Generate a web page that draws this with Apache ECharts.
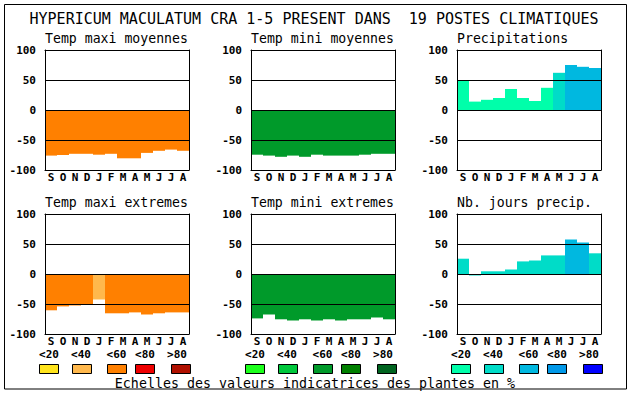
<!DOCTYPE html>
<html><head><meta charset="utf-8">
<script src="https://cdn.jsdelivr.net/npm/echarts@6/dist/echarts.min.js"></script>
<style>html,body{margin:0;padding:0;background:#fff}#c{width:630px;height:394px}</style>
</head><body><div id="c"></div>
<script>
const months = ['S','O','N','D','J','F','M','A','M','J','J','A'];
const yTicks = [-100, -50, 0, 50, 100];
const classLabels = ['<20','<40','<60','<80','>80'];
const warmColors = ['#ffe41c','#ffb84c','#ff8000','#ee0000','#b01000'];
const greenColors = ['#1cff1c','#00c83c','#009a2a','#008000','#006420'];
const blueColors = ['#00ffaa','#00dcc8','#00b8e0','#0098e8','#0000ff'];

const panelTitles = ['Temp maxi moyennes','Temp mini moyennes','Precipitations','Temp maxi extremes','Temp mini extremes','Nb. jours precip.'];

const tmaxMoy    = [-76,-75,-73,-73,-74.5,-73,-80.5,-80.5,-71.5,-68,-66,-68];
const tmaxMoyCls = [2,2,2,2,2,2,2,2,2,2,2,2];
const tminMoy    = [-74.5,-76,-78,-76,-78,-74.5,-76,-76,-76,-74.5,-73,-73];
const tminMoyCls = [2,2,2,2,2,2,2,2,2,2,2,2];
const precip     = [49,14,17,20,35,20,15,37,62,75,72,70];
const precipCls  = [0,0,0,0,0,0,0,0,1,2,2,2];
const tmaxExt    = [-60.5,-54,-52.5,-51,-42.5,-65.5,-65.5,-64,-67.5,-65.5,-64,-64];
const tmaxExtCls = [2,2,2,2,1,2,2,2,2,2,2,2];
const tminExt    = [-74,-67.5,-75.5,-77.5,-75.5,-77.5,-75.5,-77.5,-75.5,-75.5,-72.5,-75.5];
const tminExtCls = [2,2,2,2,2,2,2,2,2,2,2,2];
const nbJours    = [25.5,-2.5,4.5,4.5,7.5,21,22.5,31,31,57.5,52.5,34.5];
const nbJoursCls = [1,1,1,1,1,1,1,1,1,2,2,1];

const panels = [
  {vals: tmaxMoy, cls: tmaxMoyCls, pal: warmColors},
  {vals: tminMoy, cls: tminMoyCls, pal: greenColors},
  {vals: precip,  cls: precipCls,  pal: blueColors},
  {vals: tmaxExt, cls: tmaxExtCls, pal: warmColors},
  {vals: tminExt, cls: tminExtCls, pal: greenColors},
  {vals: nbJours, cls: nbJoursCls, pal: blueColors}
];
const palettes = [warmColors, greenColors, blueColors];

const FONT = 'DejaVu Sans Mono';
const colLeft = [45, 251, 457];
const rowTop = [50, 214];
const PW = 144, PH = 120;

const grids = [], xAxes = [], yAxes = [], series = [], graphics = [];
panels.forEach((p, k) => {
  const col = k % 3, row = Math.floor(k / 3);
  grids.push({left: colLeft[col], top: rowTop[row], width: PW, height: PH, containLabel: false});
  const gi = k;
  xAxes.push({type:'category', gridIndex: gi, data: months, position:'bottom', z: 5,
    axisLine:{show:true, onZero:false, lineStyle:{color:'#000', width:1}},
    axisTick:{show:false},
    axisLabel:{show:true, interval:0, margin:2, color:'#000', fontFamily:FONT, fontWeight:'bold', fontSize:11},
    splitLine:{show:false}});
  xAxes.push({type:'category', gridIndex: gi, data: months, position:'top', z: 5,
    axisLine:{show:true, onZero:false, lineStyle:{color:'#000', width:1}},
    axisTick:{show:false}, axisLabel:{show:false}, splitLine:{show:false}});
  yAxes.push({type:'value', gridIndex: gi, min: yTicks[0], max: yTicks[yTicks.length-1], interval: 50, position:'left', z: 5,
    axisLine:{show:true, lineStyle:{color:'#000', width:1}},
    axisTick:{show:false},
    axisLabel:{show:true, margin:9, color:'#000', fontFamily:FONT, fontWeight:'bold', fontSize:11},
    splitLine:{show:true, lineStyle:{color:'#000', width:1}}});
  yAxes.push({type:'value', gridIndex: gi, min: yTicks[0], max: yTicks[yTicks.length-1], interval: 50, position:'right', z: 5,
    axisLine:{show:true, lineStyle:{color:'#000', width:1}},
    axisTick:{show:false}, axisLabel:{show:false}, splitLine:{show:false}});
  series.push({type:'bar', xAxisIndex: 2*k, yAxisIndex: 2*k, barCategoryGap: 0, barGap: 0, z: 2,
    silent: true, animation: false,
    data: p.vals.map((v, i) => ({value: v, itemStyle: {color: p.pal[p.cls[i]]}}))});
  graphics.push({type:'text', x: colLeft[col], y: rowTop[row] - 12,
    style:{text: panelTitles[k], font: '13.2px "' + FONT + '"', fill:'#000', textVerticalAlign:'middle'}});
});

// legends
const boxOff = [-6, 27, 62, 90, 126];
const labOff = [4, 36, 71.5, 100, 132];
palettes.forEach((pal, g) => {
  pal.forEach((c, i) => {
    graphics.push({type:'rect', shape:{x: colLeft[g] + boxOff[i] + 0.5, y: 364.5, width: 19, height: 9},
      style:{fill: c, stroke:'#000', lineWidth:1}});
    graphics.push({type:'text', x: colLeft[g] + labOff[i], y: 354,
      style:{text: classLabels[i], font: 'bold 11px "' + FONT + '"', fill:'#000', textAlign:'center', textVerticalAlign:'middle'}});
  });
});
graphics.push({type:'text', x: 315, y: 383,
  style:{text:'Echelles des valeurs indicatrices des plantes en %', font:'13.3px "' + FONT + '"', fill:'#000', textAlign:'center', textVerticalAlign:'middle'}});
graphics.push({type:'text', x: 314, y: 18.5,
  style:{text:'HYPERICUM MACULATUM CRA 1-5 PRESENT DANS  19 POSTES CLIMATIQUES', font:'15px "' + FONT + '"', fill:'#000', textAlign:'center', textVerticalAlign:'middle'}});
graphics.push({type:'rect', shape:{x:4.5, y:4.5, width:622, height:384.5}, style:{fill:'none', stroke:'#000', lineWidth:1}, z: 10});

const chart = echarts.init(document.getElementById('c'), null, {renderer:'svg'});
chart.setOption({
  animation: false,
  backgroundColor: '#fff',
  grid: grids, xAxis: xAxes, yAxis: yAxes, series: series,
  graphic: graphics
});
</script></body></html>
